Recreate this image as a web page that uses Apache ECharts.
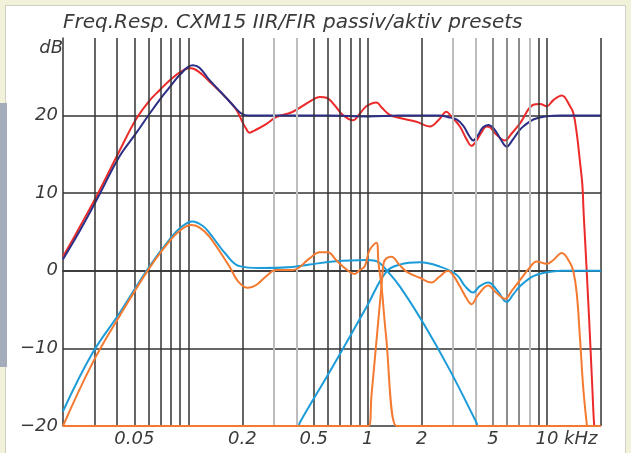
<!DOCTYPE html>
<html><head><meta charset="utf-8">
<script src="https://cdn.jsdelivr.net/npm/echarts@6/dist/echarts.min.js"></script>
<style>
html,body{margin:0;padding:0;width:631px;height:453px;overflow:hidden;background:#f2f2da;}
#panel{position:absolute;left:5px;top:5px;width:621px;height:448px;background:#fff;border:1px solid #cfcfc4;border-bottom:none;box-sizing:border-box;}
#bar{position:absolute;left:0;top:103px;width:7px;height:264px;background:#a4abbb;}
#chart{position:absolute;left:0;top:0;width:631px;height:453px;}
</style></head><body>
<div id="panel"></div><div id="bar"></div><div id="chart"></div>
<script>
const chartTitle = 'Freq.Resp. CXM15 IIR/FIR passiv/aktiv presets';
const xLabelValues = [0.05, 0.2, 0.5, 1, 2, 5, 10];
const xLabelTexts = ['0.05', '0.2', '0.5', '1', '2', '5', '10 kHz'];
const gridDark = [0.03, 0.04, 0.05, 0.06, 0.07, 0.08, 0.09, 0.1, 0.2, 0.5, 0.6, 0.7, 0.8, 0.9, 1, 2, 9, 10, 20];
const gridMid = [5, 6, 7];
const gridLight = [0.3, 0.4, 3, 4, 8];

// [frequency kHz, dB]
const passiveSum = [[0.02,1.8],[0.025,5.8],[0.0314,10],[0.0412,15.4],[0.051,19.5],[0.0606,21.9],[0.07,23.4],[0.0783,24.5],[0.09,25.6],[0.1004,26.1],[0.1035,26.1],[0.115,25.6],[0.131,24.4],[0.1624,22.3],[0.1847,20.8],[0.2,19.2],[0.2101,18.3],[0.2192,17.8],[0.235,18.1],[0.2716,18.9],[0.309,19.8],[0.3825,20.5],[0.4742,21.8],[0.5391,22.4],[0.5902,22.3],[0.65,21.4],[0.725,20.1],[0.828,19.4],[0.9,20.2],[0.9833,21.2],[1.118,21.7],[1.2,21.0],[1.327,20.1],[1.51,19.7],[1.871,19.2],[2.221,18.6],[2.5,19.5],[2.753,20.5],[2.9,20.0],[3.266,18.6],[3.55,17.0],[3.796,16.1],[4.0,16.6],[4.3,17.8],[4.605,18.6],[4.8,18.5],[5.2,17.6],[5.826,16.8],[6.3,17.6],[7.068,19.0],[8.385,21.4],[9.141,21.5],[9.962,21.2],[10.85,22.0],[12.08,22.6],[13.45,21.2],[14.03,20.3],[14.65,17.7],[15.29,13.9],[15.75,11.0],[16.0,7.5],[16.3,4.0],[16.9,-3],[17.39,-8.9],[17.91,-15.3],[18.31,-19.8],[18.5,-20],[20,-20]];
const activeSum = [[0.02,1.5],[0.025,5.3],[0.0314,9.5],[0.0412,14.7],[0.051,17.7],[0.0606,20.2],[0.07,22.2],[0.0783,23.6],[0.09,25.3],[0.1057,26.5],[0.115,26.2],[0.131,24.6],[0.1624,22.3],[0.1847,20.9],[0.197,20.3],[0.215,20.0],[0.3,20.0],[0.6,20.0],[1.0,19.9],[1.5,20.0],[2.5,20.0],[2.81,19.8],[3.13,19.5],[3.407,18.7],[3.7,17.3],[3.875,16.8],[4.1,17.4],[4.4,18.5],[4.7,18.8],[5.1,18.2],[5.5,17.0],[5.955,16.0],[6.4,16.8],[7.068,18.2],[7.374,18.6],[8.385,19.5],[9.962,19.9],[12,20.0],[20,20.0]];
const activeWoofer = [[0.02,-18.1],[0.0292,-10.6],[0.0412,-5.5],[0.0606,0.55],[0.0783,4.0],[0.092,5.7],[0.1057,6.35],[0.12,5.8],[0.131,4.9],[0.1624,2.1],[0.1927,0.6],[0.2492,0.35],[0.3825,0.5],[0.4742,0.8],[0.64,1.2],[0.9833,1.4],[1.1,1.3],[1.167,1.0],[1.272,0.1],[1.51,-2.0],[2.037,-6.7],[2.872,-12.8],[4.049,-19.6],[4.12,-20],[5,-20]];
const activeTweeter = [[0.35,-20],[0.4115,-20],[0.417,-19.6],[0.6399,-12.3],[0.9833,-4.7],[1.272,-0.1],[1.51,0.8],[1.952,1.1],[2.525,0.55],[3.13,-0.5],[3.5,-2.0],[3.875,-2.8],[4.2,-2.0],[4.7,-1.5],[5.3,-2.6],[5.955,-4.0],[6.5,-3.0],[7.068,-2.0],[8.385,-0.7],[9.962,-0.2],[12,0],[20,0]];
const passiveWoofer = [[0.02,-20],[0.0292,-11.9],[0.0412,-5.9],[0.0606,0.35],[0.0783,3.8],[0.09,5.2],[0.1035,5.9],[0.115,5.6],[0.131,4.4],[0.1694,0.55],[0.19,-1.4],[0.2145,-2.2],[0.24,-1.8],[0.2716,-0.7],[0.309,0.1],[0.3825,0.1],[0.4742,1.6],[0.5391,2.4],[0.6002,2.4],[0.66,1.5],[0.7278,0.55],[0.846,-0.4],[0.9021,0.1],[0.9621,0.55],[1.026,2.7],[1.118,3.6],[1.149,1.0],[1.197,-2.2],[1.261,-8.0],[1.447,-20],[1.6,-20],[20,-20]];
const passiveTweeter = [[0.02,-20],[0.9,-20],[1.013,-20],[1.049,-16.2],[1.134,-7.6],[1.202,-1.2],[1.228,1.0],[1.272,1.6],[1.357,1.8],[1.5,0.8],[1.645,-0.1],[1.952,-0.9],[2.27,-1.5],[2.5,-0.8],[2.81,0],[3.0,-0.6],[3.266,-2.0],[3.55,-3.5],[3.796,-4.3],[4.1,-3.2],[4.7,-1.9],[5.2,-2.8],[5.826,-3.6],[6.4,-2.5],[7.068,-1.2],[8.0,0.4],[8.761,1.2],[9.962,0.9],[10.85,1.4],[12.08,2.3],[13.45,1.0],[14.03,-0.1],[14.65,-2.9],[15.29,-8.9],[15.95,-15.3],[16.67,-19.8],[16.8,-20],[20,-20]];

const FONT = 'DejaVu Sans';
const TXT = '#3a3a3a';
const chart = echarts.init(document.getElementById('chart'), null, {renderer: 'canvas'});

function curve(name, data, color, z) {
  return {type: 'line', name, data, symbol: 'none', showSymbol: false, smooth: 0.4,
    lineStyle: {color, width: 2}, z, animation: false, silent: true};
}
function gl(list, color, width) {
  return list.map(v => ({xAxis: v, lineStyle: {color, width, type: 'solid'}}));
}

chart.setOption({
  animation: false,
  title: {text: chartTitle, left: 63, top: 13, padding: 0,
    textStyle: {fontFamily: FONT, fontStyle: 'italic', fontWeight: 'normal', fontSize: 20, color: TXT}},
  grid: {left: 63, right: 30, top: 38, bottom: 27, containLabel: false},
  xAxis: {type: 'log', logBase: 10, min: 0.02, max: 20,
    axisLine: {show: true, lineStyle: {color: '#333', width: 1.5}},
    axisTick: {show: false}, splitLine: {show: false}, minorSplitLine: {show: false},
    axisLabel: {customValues: xLabelValues, margin: 4, fontFamily: FONT, fontStyle: 'italic', fontSize: 18, color: TXT,
      formatter: function (v) {
        let best = 0;
        xLabelValues.forEach((x, i) => { if (Math.abs(Math.log(x / v)) < Math.abs(Math.log(xLabelValues[best] / v))) best = i; });
        const t = xLabelTexts[best];
        return t.indexOf(' ') > 0 ? '{p| }' + t : t;
      },
      rich: {p: {width: 39, fontSize: 18}}
    }
  },
  yAxis: {type: 'value', min: -20, max: 30, interval: 10,
    name: 'dB', nameLocation: 'end', nameGap: -10,
    nameTextStyle: {align: 'right', verticalAlign: 'middle', fontFamily: FONT, fontStyle: 'italic', fontSize: 18, color: TXT, padding: 0},
    axisLine: {show: true, lineStyle: {color: '#333', width: 1.5}},
    axisTick: {show: false},
    splitLine: {show: true, showMaxLine: false, lineStyle: {color: '#333', width: 1.5}},
    axisLabel: {margin: 5, fontFamily: FONT, fontStyle: 'italic', fontSize: 18, color: TXT,
      formatter: v => v === 30 ? '' : (v < 0 ? '\u2212' + Math.abs(v) : String(v))}
  },
  series: [
    {type: 'line', data: [], z: 1, silent: true,
      markLine: {silent: true, symbol: ['none', 'none'], label: {show: false}, animation: false,
        data: [].concat(gl(gridLight, '#bdbdbd', 2), gl(gridMid, '#666', 1.5), gl(gridDark, '#333', 1.5))}},
    curve('passiveSum', passiveSum, '#ec2a2a', 3),
    curve('activeSum', activeSum, '#2b2f85', 4),
    curve('activeWoofer', activeWoofer, '#1b9bd8', 5),
    curve('activeTweeter', activeTweeter, '#1b9bd8', 5),
    curve('passiveWoofer', passiveWoofer, '#f37a30', 6),
    curve('passiveTweeter', passiveTweeter, '#f37a30', 6)
  ]
});
</script>
</body></html>
